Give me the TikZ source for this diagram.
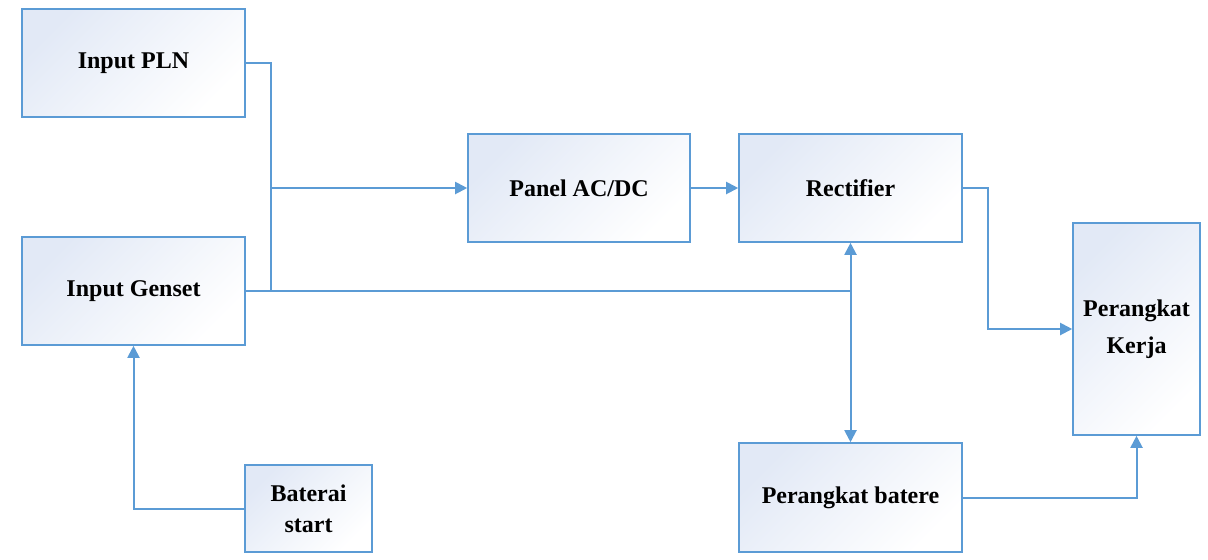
\documentclass[tikz,border=0pt]{standalone}
\usepackage{fontspec}
\setmainfont{Liberation Serif}
\usetikzlibrary{arrows.meta}
\definecolor{lineblue}{RGB}{91,155,213}
\definecolor{boxtint}{RGB}{226,233,246}
\tikzset{
  block/.style={draw=lineblue,line width=0.8pt,left color=boxtint,right color=white,shading angle=45,
    align=center,font=\fontsize{12}{15.5}\selectfont\bfseries,inner sep=2pt},
  link/.style={draw=lineblue,line width=1pt},
  tip/.style={link,-{Triangle[length=6pt,width=6pt]}},
  tips/.style={link,{Triangle[length=6pt,width=6pt]}-{Triangle[length=6pt,width=6pt]}}
}
\begin{document}
\begin{tikzpicture}[x=0.5pt,y=-0.5pt]
\useasboundingbox (0,0) rectangle (1208,559);
\node (pln)   at ( 133.5,  63.0) [block,minimum width=111.5pt,minimum height=54pt] {Input PLN};
\node (gen)   at ( 133.5, 291.0) [block,minimum width=111.5pt,minimum height=54pt] {Input Genset};
\node (start) at ( 308.5, 508.5) [block,minimum width=63.5pt,minimum height=43.5pt] {Baterai\\start};
\node (panel) at ( 579.0, 188.0) [block,minimum width=111pt,minimum height=54pt] {Panel AC/DC};
\node (rect)  at ( 850.5, 188.0) [block,minimum width=111.5pt,minimum height=54pt] {Rectifier};
\node (bat)   at ( 850.5, 497.5) [block,minimum width=111.5pt,minimum height=54.5pt] {Perangkat batere};
\node (kerja) at (1136.5, 329.0) [block,minimum width=63.5pt,minimum height=106pt] {Perangkat\\[3pt]Kerja};

\coordinate (split) at (270.0, 188.0);
\coordinate (tap)   at (850.5, 291.0);

\draw [link] (pln.east) -- ++(25,0) |- (gen.east);
\draw [tip]  (split) -- (panel.west);
\draw [link] (gen.east) -- (tap);
\draw [tip]  (panel) -- (rect);
\draw [tips] (rect.south) -- (bat.north);
\draw [tip]  (rect.east) -- ++(25,0) |- (kerja.west);
\draw [tip]  (bat.east) -| (kerja.south);
\draw [tip]  (start.west) -| (gen.south);
\end{tikzpicture}
\end{document}
